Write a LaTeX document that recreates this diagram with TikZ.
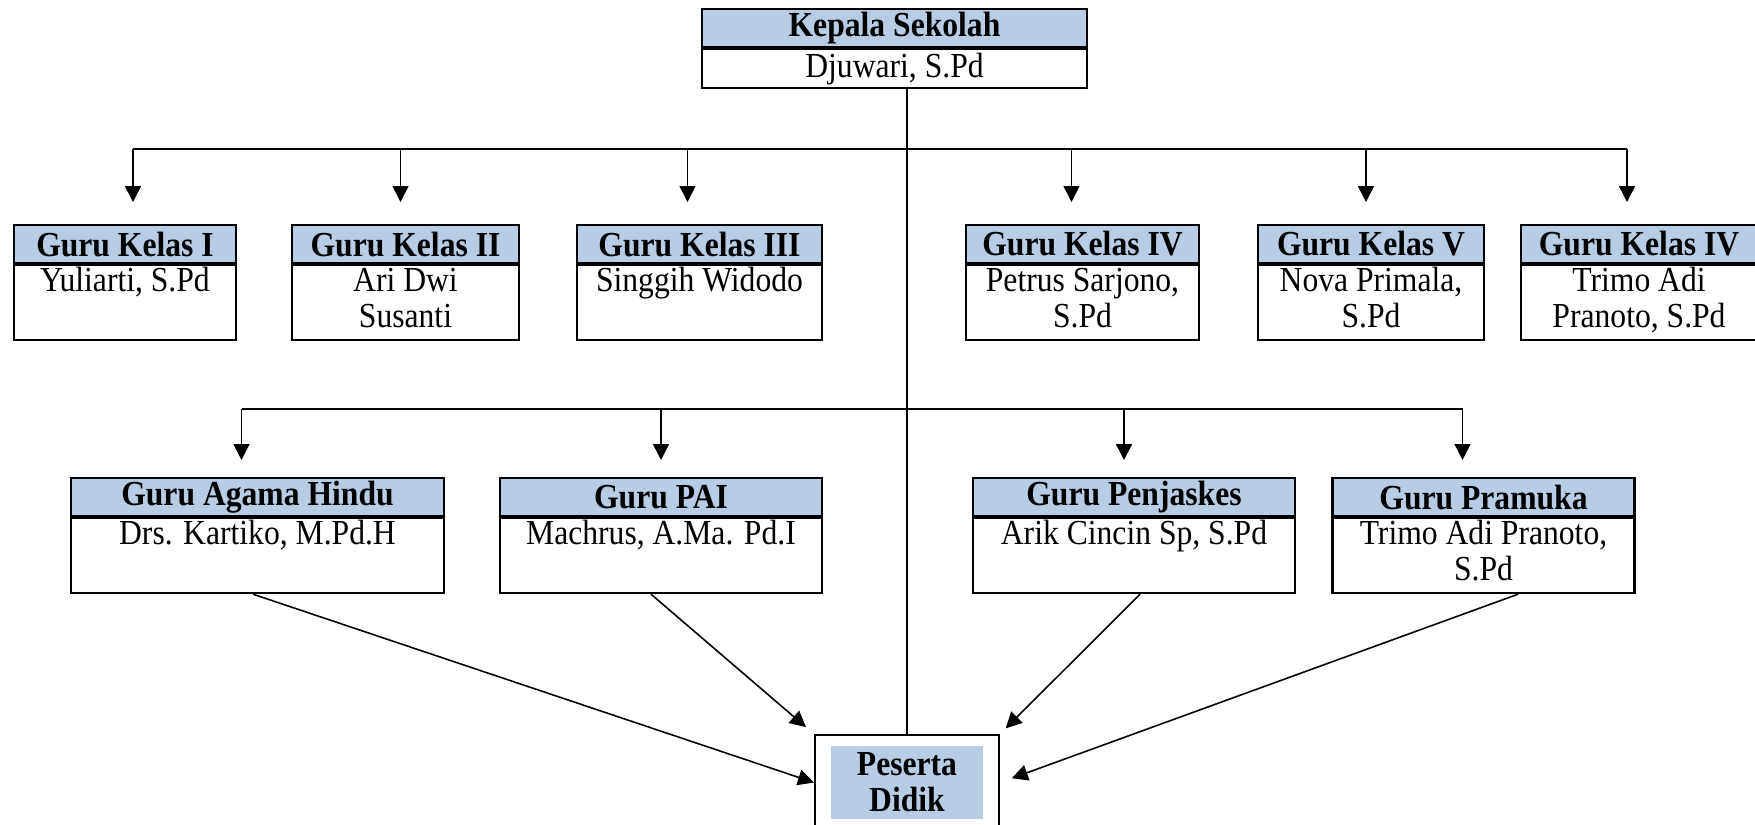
\documentclass[tikz,border=0pt]{standalone}
\usepackage{fontspec}
\setmainfont{Liberation Serif}[FakeStretch=0.9]
\usetikzlibrary{positioning,arrows.meta}
\definecolor{headblue}{RGB}{184,204,228}
\tikzset{
  head/.style={draw, line width=1.2pt, fill=headblue, font=\bfseries, minimum height=0.76cm, inner sep=0pt, anchor=north},
  body/.style={draw, line width=1.2pt, minimum height=1.5cm, inner sep=0pt, align=center},
  conn/.style={line width=0.9pt},
  connarrow/.style={line width=0.9pt, -{Triangle[length=0.32cm,width=0.32cm]}}
}
\begin{document}
\fontsize{20}{20.5}\selectfont
\begin{tikzpicture}[x=0.02cm, y=-0.02cm]
  \useasboundingbox (0,0) rectangle (1755,825);
  % kepala sekolah
  \node[head, minimum width=7.7cm] (kepala) at (894.5,8) {Kepala Sekolah};
  \node[body, minimum width=7.7cm, minimum height=0.78cm, below=0pt of kepala] (kepalab) {Djuwari, S.Pd};
  % guru kelas
  \node[head, minimum width=4.44cm] (kelas1) at (125,224) {Guru Kelas I};
  \node[body, minimum width=4.44cm, below=0pt of kelas1] (kelas1b) {\strut Yuliarti, S.Pd\\\strut};
  \node[head, minimum width=4.54cm] (kelas2) at (405.5,224) {Guru Kelas II};
  \node[body, minimum width=4.54cm, below=0pt of kelas2] (kelas2b) {\strut Ari Dwi\\\strut Susanti};
  \node[head, minimum width=4.9cm] (kelas3) at (699.5,224) {Guru Kelas III};
  \node[body, minimum width=4.9cm, below=0pt of kelas3] (kelas3b) {\strut Singgih Widodo\\\strut};
  \node[head, minimum width=4.66cm] (kelas4) at (1082.5,224) {Guru Kelas IV};
  \node[body, minimum width=4.66cm, below=0pt of kelas4] (kelas4b) {\strut Petrus Sarjono,\\\strut S.Pd};
  \node[head, minimum width=4.52cm] (kelas5) at (1371,224) {Guru Kelas V};
  \node[body, minimum width=4.52cm, below=0pt of kelas5] (kelas5b) {\strut Nova Primala,\\\strut S.Pd};
  \node[head, minimum width=4.72cm] (kelas6) at (1639,224) {Guru Kelas IV};
  \node[body, minimum width=4.72cm, below=0pt of kelas6] (kelas6b) {\strut Trimo Adi\\\strut Pranoto, S.Pd};
  % guru mapel
  \node[head, minimum width=7.46cm] (hindu) at (257.5,477) {Guru Agama Hindu};
  \node[body, minimum width=7.46cm, below=0pt of hindu] (hindub) {\strut Drs. Kartiko, M.Pd.H\\\strut};
  \node[head, minimum width=6.44cm] (pai) at (661,477) {Guru PAI};
  \node[body, minimum width=6.44cm, below=0pt of pai] (paib) {\strut Machrus, A.Ma. Pd.I\\\strut};
  \node[head, minimum width=6.44cm] (penjaskes) at (1134,477) {Guru Penjaskes};
  \node[body, minimum width=6.44cm, below=0pt of penjaskes] (penjaskesb) {\strut Arik Cincin Sp, S.Pd\\\strut};
  \node[head, minimum width=6.04cm] (pramuka) at (1483.5,477) {Guru Pramuka};
  \node[body, minimum width=6.04cm, below=0pt of pramuka] (pramukab) {\strut Trimo Adi Pranoto,\\\strut S.Pd};
  % peserta didik
  \node[draw, line width=1.2pt, minimum width=3.68cm, minimum height=1.9cm, anchor=north] (peserta) at (907,734) {};
  \node[fill=headblue, font=\bfseries, align=center, inner sep=0pt, minimum width=3.04cm, minimum height=1.46cm] (pesertalabel) at (peserta.center) {Peserta\\Didik};
  % garis
  \coordinate (bus1) at (0,149);
  \coordinate (bus2) at (0,409);
  \coordinate (t1) at ([xshift=0.16cm]kelas1.north);
  \coordinate (t2) at ([xshift=-0.1cm]kelas2.north);
  \coordinate (t3) at ([xshift=-0.24cm]kelas3.north);
  \coordinate (t4) at ([xshift=-0.22cm]kelas4.north);
  \coordinate (t5) at ([xshift=-0.1cm]kelas5.north);
  \coordinate (t6) at ([xshift=-0.24cm]kelas6.north);
  \coordinate (m1) at ([xshift=-0.32cm]hindu.north);
  \coordinate (m2) at (pai.north);
  \coordinate (m3) at ([xshift=-0.2cm]penjaskes.north);
  \coordinate (m4) at ([xshift=-0.42cm]pramuka.north);
  \draw[conn] (peserta.north |- kepalab.south) -- (peserta.north);
  \draw[conn] (t1 |- bus1) -- (t6 |- bus1);
  \draw[connarrow, shorten >=0.44cm] (t1 |- bus1) -- (t1);
  \draw[connarrow, shorten >=0.44cm] (t2 |- bus1) -- (t2);
  \draw[connarrow, shorten >=0.44cm] (t3 |- bus1) -- (t3);
  \draw[connarrow, shorten >=0.44cm] (t4 |- bus1) -- (t4);
  \draw[connarrow, shorten >=0.44cm] (t5 |- bus1) -- (t5);
  \draw[connarrow, shorten >=0.44cm] (t6 |- bus1) -- (t6);
  \draw[conn] (m1 |- bus2) -- (m4 |- bus2);
  \draw[connarrow, shorten >=0.34cm] (m1 |- bus2) -- (m1);
  \draw[connarrow, shorten >=0.34cm] (m2 |- bus2) -- (m2);
  \draw[connarrow, shorten >=0.34cm] (m3 |- bus2) -- (m3);
  \draw[connarrow, shorten >=0.34cm] (m4 |- bus2) -- (m4);
  \draw[connarrow] ([xshift=-0.09cm]hindub.south) -- (peserta.west);
  \draw[connarrow, shorten >=0.21cm] ([xshift=-0.2cm]paib.south) -- (peserta.north west);
  \draw[connarrow, shorten >=0.16cm] ([xshift=0.12cm]penjaskesb.south) -- (peserta.north east);
  \draw[connarrow, shorten >=0.25cm] ([xshift=0.69cm]pramukab.south) -- (peserta.east);
\end{tikzpicture}
\end{document}
